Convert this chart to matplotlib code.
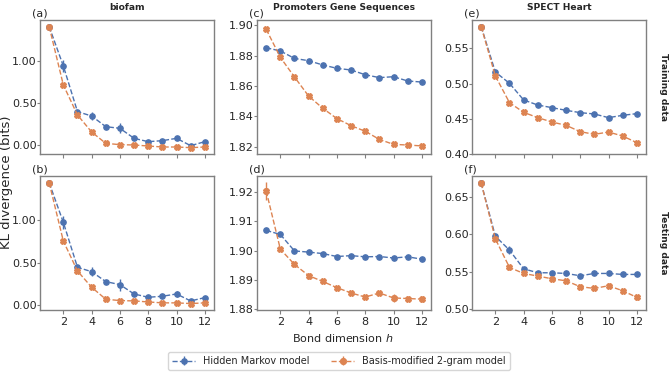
import matplotlib
matplotlib.use("Agg")
import matplotlib.pyplot as plt
import numpy as np

BLUE = "#4c72b0"
ORANGE = "#dd8452"
FRAME = "#808080"
INK = "#262626"

h = np.arange(1, 13)

# (a) biofam, training
a_hmm = [1.416, 0.944, 0.396, 0.344, 0.216, 0.196, 0.076, 0.036, 0.048, 0.076, -0.012, 0.036]
a_hmm_err = [0.005, 0.07, 0.02, 0.045, 0.015, 0.06, 0.012, 0.01, 0.012, 0.015, 0.01, 0.012]
a_bm = [1.416, 0.716, 0.356, 0.152, 0.016, 0.0, -0.004, -0.016, -0.028, -0.028, -0.036, -0.028]
a_bm_err = [0.005, 0.012, 0.012, 0.01, 0.008, 0.006, 0.006, 0.006, 0.006, 0.006, 0.008, 0.006]

# (b) biofam, testing
b_hmm = [1.439, 0.973, 0.443, 0.392, 0.275, 0.239, 0.129, 0.090, 0.102, 0.129, 0.047, 0.086]
b_hmm_err = [0.005, 0.08, 0.025, 0.05, 0.015, 0.07, 0.012, 0.01, 0.012, 0.03, 0.01, 0.012]
b_bm = [1.439, 0.753, 0.400, 0.208, 0.067, 0.051, 0.047, 0.035, 0.024, 0.024, 0.016, 0.024]
b_bm_err = [0.005, 0.015, 0.012, 0.01, 0.008, 0.006, 0.006, 0.006, 0.006, 0.006, 0.008, 0.006]

# (c) Promoters, training
c_hmm = [1.8851, 1.8830, 1.8781, 1.8766, 1.8738, 1.8716, 1.8705, 1.8674, 1.8655, 1.8661, 1.8633, 1.8626]
c_hmm_err = [0.0004] * 12
c_bm = [1.8972, 1.8788, 1.8659, 1.8534, 1.8454, 1.8386, 1.8340, 1.8303, 1.8250, 1.8217, 1.8213, 1.8207]
c_bm_err = [0.0008] * 12

# (d) Promoters, testing
d_hmm = [1.9069, 1.9055, 1.8999, 1.8995, 1.8990, 1.8980, 1.8983, 1.8979, 1.8980, 1.8975, 1.8979, 1.8971]
d_hmm_err = [0.0002] * 12
d_bm = [1.9203, 1.9005, 1.8953, 1.8915, 1.8895, 1.8874, 1.8856, 1.8842, 1.8856, 1.8839, 1.8837, 1.8835]
d_bm_err = [0.003, 0.0006, 0.0008, 0.001, 0.0006, 0.0006, 0.0006, 0.0005, 0.0006, 0.0015, 0.0008, 0.001]

# (e) SPECT Heart, training
e_hmm = [0.5808, 0.5164, 0.5003, 0.4767, 0.4695, 0.4658, 0.4620, 0.4587, 0.4568, 0.4516, 0.4549, 0.4573]
e_hmm_err = [0.001, 0.003, 0.004, 0.003, 0.002, 0.002, 0.002, 0.002, 0.002, 0.002, 0.002, 0.002]
e_bm = [0.5808, 0.5107, 0.4729, 0.4591, 0.4516, 0.4454, 0.4407, 0.4317, 0.4279, 0.4312, 0.4255, 0.4161]
e_bm_err = [0.001, 0.003, 0.003, 0.002, 0.002, 0.002, 0.002, 0.002, 0.002, 0.003, 0.002, 0.002]

# (f) SPECT Heart, testing
f_hmm = [0.6686, 0.5976, 0.5790, 0.5541, 0.5488, 0.5488, 0.5479, 0.5448, 0.5479, 0.5479, 0.5466, 0.5466]
f_hmm_err = [0.001, 0.003, 0.005, 0.003, 0.002, 0.002, 0.002, 0.002, 0.002, 0.002, 0.002, 0.002]
f_bm = [0.6686, 0.5941, 0.5559, 0.5479, 0.5444, 0.5408, 0.5381, 0.5302, 0.5279, 0.5315, 0.5248, 0.5160]
f_bm_err = [0.001, 0.003, 0.003, 0.002, 0.002, 0.002, 0.002, 0.003, 0.002, 0.003, 0.002, 0.003]

panels = [
    ("(a)", a_hmm, a_hmm_err, a_bm, a_bm_err, (-0.112, 1.496), [0.0, 0.5, 1.0]),
    ("(b)", b_hmm, b_hmm_err, b_bm, b_bm_err, (-0.06, 1.52), [0.0, 0.5, 1.0]),
    ("(c)", c_hmm, c_hmm_err, c_bm, c_bm_err, (1.8154, 1.9033), [1.82, 1.84, 1.86, 1.88, 1.90]),
    ("(d)", d_hmm, d_hmm_err, d_bm, d_bm_err, (1.8798, 1.9254), [1.88, 1.89, 1.90, 1.91, 1.92]),
    ("(e)", e_hmm, e_hmm_err, e_bm, e_bm_err, (0.40, 0.5902), [0.40, 0.45, 0.50, 0.55]),
    ("(f)", f_hmm, f_hmm_err, f_bm, f_bm_err, (0.4991, 0.678), [0.50, 0.55, 0.60, 0.65]),
]
titles = ["biofam", "Promoters Gene Sequences", "SPECT Heart"]
row_labels = ["Training data", "Testing data"]

W, H = 671, 372
fig = plt.figure(figsize=(W / 100, H / 100), dpi=100)
fig.patch.set_facecolor("white")

lefts = [40, 257, 472]
tops = [20, 176]
aw, ah = 174, 134

for i, (lab, hmm, hmm_e, bm, bm_e, ylim, yt) in enumerate(panels):
    col, row = i // 2, i % 2
    ax = fig.add_axes([lefts[col] / W, 1 - (tops[row] + ah) / H, aw / W, ah / H])
    l1 = ax.errorbar(h, hmm, yerr=hmm_e, color=BLUE, linestyle="--", linewidth=1,
                     marker="o", markersize=3.8, elinewidth=1, capsize=0,
                     label="Hidden Markov model")
    l2 = ax.errorbar(h, bm, yerr=bm_e, color=ORANGE, linestyle="--", linewidth=1,
                     marker="X", markersize=4.3, elinewidth=1, capsize=0,
                     label="Basis-modified 2-gram model")
    ax.set_xlim(0.35, 12.65)
    ax.set_ylim(*ylim)
    ax.set_xticks([2, 4, 6, 8, 10, 12])
    ax.set_yticks(yt)
    ax.yaxis.set_major_formatter(matplotlib.ticker.FormatStrFormatter("%.2f"))
    if row == 0:
        ax.set_xticklabels([])
        ax.set_title(titles[col], fontsize=6.6, fontweight="bold", color=INK, pad=7)
    for sp in ax.spines.values():
        sp.set_color(FRAME)
        sp.set_linewidth(1)
    ax.tick_params(colors=INK, labelsize=8, width=0.8, color=FRAME)
    ax.tick_params(axis="x", length=3, pad=2)
    ax.tick_params(axis="y", length=2, pad=0.5)
    ax.text(-0.046, 1.012, lab, transform=ax.transAxes, fontsize=8, color=INK,
            ha="left", va="bottom")
    if col == 2:
        ax.text(1.098, 0.5, row_labels[row], transform=ax.transAxes, fontsize=6.6,
                fontweight="bold", rotation=270, ha="center", va="center", color=INK)

fig.text(6.5 / W, 1 - 182 / H, "KL divergence (bits)", rotation=90, fontsize=9.5,
         ha="center", va="center", color=INK)
fig.text(343 / W, 1 - 338 / H, "Bond dimension $h$", fontsize=8,
         ha="center", va="center", color=INK)
fig.legend(handles=[l1, l2], loc="center", bbox_to_anchor=(339 / W, 1 - 361 / H),
           ncol=2, fontsize=7, frameon=True, handlelength=2.4, columnspacing=2.2,
           borderpad=0.4, labelcolor=INK)

fig.savefig("out.png", dpi=100)
